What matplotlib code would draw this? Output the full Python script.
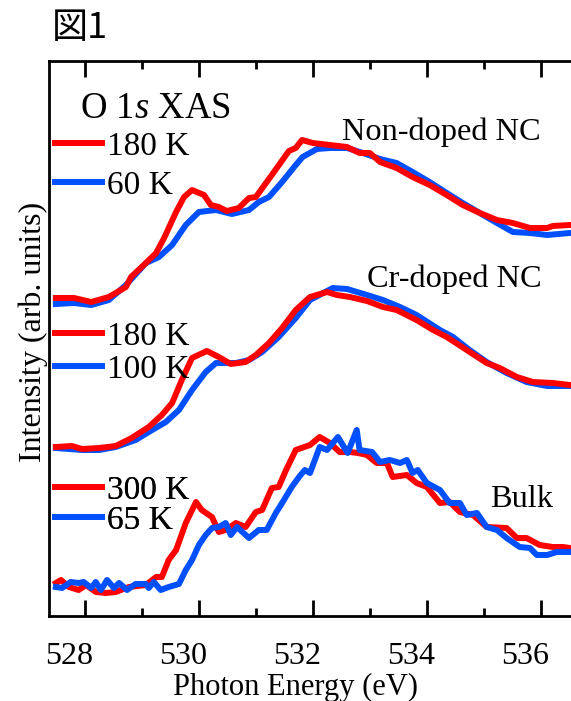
import numpy as np
import matplotlib.pyplot as plt
from matplotlib.transforms import ScaledTranslation

plt.rcParams['font.family'] = ['Liberation Serif', 'DejaVu Sans']
plt.rcParams['mathtext.fontset'] = 'custom'
plt.rcParams['mathtext.rm'] = 'Liberation Serif'
plt.rcParams['mathtext.it'] = 'Liberation Serif:italic'

# Non-doped NC
nd_180_E = [527.49, 527.81, 528.11, 528.42, 528.72, 528.81, 529.07, 529.25, 529.39, 529.60,
            529.74, 529.88, 530.09, 530.21, 530.35, 530.49, 530.70, 530.88, 531.00, 531.28,
            531.58, 531.70, 531.81, 532.00, 532.30, 532.60, 532.82, 533.00, 533.18, 533.47,
            533.75, 534.05, 534.35, 534.63, 534.93, 535.23, 535.51, 535.81, 536.11, 536.21, 536.51]
nd_180_I = [3.18, 3.18, 3.14, 3.19, 3.29, 3.39, 3.53, 3.63, 3.78, 4.04,
            4.19, 4.26, 4.21, 4.11, 4.09, 4.05, 4.08, 4.18, 4.19, 4.41,
            4.65, 4.68, 4.76, 4.73, 4.71, 4.69, 4.63, 4.63, 4.54, 4.48,
            4.39, 4.31, 4.21, 4.11, 4.03, 3.96, 3.93, 3.88, 3.88, 3.90, 3.91]
nd_60_E = [527.49, 527.81, 528.11, 528.42, 528.72, 529.07, 529.30, 529.53, 529.77, 530.00,
           530.30, 530.58, 530.88, 531.05, 531.23, 531.46, 531.70, 531.82, 532.07, 532.30,
           532.60, 532.88, 533.18, 533.47, 533.75, 534.05, 534.35, 534.63, 534.93, 535.23,
           535.51, 535.81, 536.11, 536.51]
nd_60_I = [3.12, 3.13, 3.11, 3.16, 3.31, 3.53, 3.59, 3.71, 3.91, 4.04,
           4.06, 4.02, 4.06, 4.14, 4.19, 4.34, 4.51, 4.59, 4.67, 4.68,
           4.68, 4.63, 4.57, 4.53, 4.44, 4.34, 4.23, 4.13, 4.03, 3.93,
           3.84, 3.83, 3.81, 3.83]

# Cr-doped NC
cr_180_E = [527.49, 527.77, 527.95, 528.25, 528.54, 528.82, 529.12, 529.35, 529.53, 529.70,
            529.88, 530.14, 530.35, 530.56, 530.82, 531.00, 531.23, 531.46, 531.70, 531.95,
            532.25, 532.42, 532.65, 532.95, 533.23, 533.47, 533.82, 534.11, 534.35, 534.70,
            535.05, 535.28, 535.58, 535.86, 536.21, 536.51]
cr_180_I = [1.69, 1.70, 1.67, 1.68, 1.70, 1.78, 1.89, 2.01, 2.13, 2.36,
            2.58, 2.65, 2.59, 2.52, 2.54, 2.61, 2.73, 2.88, 3.06, 3.19,
            3.24, 3.21, 3.19, 3.15, 3.09, 3.06, 2.96, 2.86, 2.79, 2.66,
            2.53, 2.48, 2.39, 2.34, 2.33, 2.31]
cr_100_E = [527.49, 527.95, 528.25, 528.54, 528.89, 529.12, 529.42, 529.65, 529.88, 530.12,
            530.30, 530.65, 530.88, 531.11, 531.40, 531.70, 531.95, 532.18, 532.35, 532.60,
            532.95, 533.23, 533.53, 533.82, 534.23, 534.46, 534.75, 535.05, 535.40, 535.75,
            536.11, 536.51]
cr_100_I = [1.68, 1.66, 1.66, 1.69, 1.76, 1.84, 1.94, 2.06, 2.26, 2.44,
            2.53, 2.53, 2.56, 2.64, 2.79, 2.98, 3.16, 3.23, 3.28, 3.27,
            3.21, 3.16, 3.09, 3.01, 2.86, 2.79, 2.66, 2.54, 2.43, 2.34,
            2.30, 2.30]

# Bulk
bk_300_E = [527.49, 527.58, 527.72, 527.89, 528.02, 528.19, 528.37, 528.54, 528.77, 529.07,
            529.25, 529.35, 529.47, 529.60, 529.77, 529.95, 530.05, 530.23, 530.35, 530.47,
            530.65, 530.82, 531.00, 531.11, 531.28, 531.40, 531.53, 531.70, 531.95, 532.12,
            532.30, 532.47, 532.65, 532.79, 532.95, 533.12, 533.30, 533.40, 533.65, 533.82,
            534.00, 534.23, 534.40, 534.58, 534.81, 535.05, 535.40, 535.58, 535.75, 535.98,
            536.21, 536.39, 536.51]
bk_300_I = [0.33, 0.36, 0.29, 0.26, 0.31, 0.24, 0.23, 0.24, 0.29, 0.31,
            0.39, 0.39, 0.56, 0.66, 0.93, 1.14, 1.06, 0.99, 0.84, 0.86,
            0.93, 0.89, 1.04, 1.06, 1.28, 1.29, 1.46, 1.66, 1.71, 1.79,
            1.73, 1.64, 1.64, 1.63, 1.61, 1.53, 1.53, 1.39, 1.41, 1.33,
            1.29, 1.13, 1.14, 1.04, 1.01, 0.89, 0.88, 0.78, 0.78, 0.71,
            0.69, 0.69, 0.68]
bk_65_E = [527.49, 527.60, 527.75, 527.89, 527.98, 528.11, 528.19, 528.28, 528.39, 528.51,
           528.60, 528.74, 528.89, 529.07, 529.12, 529.21, 529.33, 529.47, 529.65, 529.77,
           529.88, 530.00, 530.12, 530.23, 530.35, 530.47, 530.56, 530.67, 530.88, 531.05,
           531.19, 531.35, 531.46, 531.63, 531.77, 531.86, 531.95, 532.12, 532.25, 532.44,
           532.61, 532.77, 532.82, 533.04, 533.18, 533.35, 533.53, 533.65, 533.75, 533.84,
           534.00, 534.23, 534.40, 534.58, 534.70, 534.88, 535.05, 535.23, 535.40, 535.63,
           535.81, 535.93, 536.11, 536.28, 536.51]
bk_65_I = [0.29, 0.28, 0.34, 0.33, 0.34, 0.28, 0.34, 0.26, 0.36, 0.28,
           0.33, 0.26, 0.32, 0.32, 0.28, 0.34, 0.26, 0.29, 0.32, 0.46,
           0.56, 0.71, 0.81, 0.88, 0.89, 0.93, 0.81, 0.89, 0.78, 0.86,
           0.86, 1.03, 1.13, 1.29, 1.40, 1.46, 1.43, 1.69, 1.66, 1.79,
           1.63, 1.86, 1.66, 1.64, 1.54, 1.56, 1.53, 1.56, 1.43, 1.46,
           1.33, 1.26, 1.13, 1.13, 1.01, 1.03, 0.89, 0.86, 0.78, 0.69,
           0.68, 0.61, 0.61, 0.64, 0.64]

red = '#ff0000'
blue = '#0050ff'
lw = 4.3

fig = plt.figure(figsize=(5.71, 7.01), dpi=100)
ax = fig.add_axes([49 / 571, 85 / 701, 522 / 571, 555 / 701])

b1, = ax.plot(nd_60_E, nd_60_I, color=blue, lw=lw)
r1, = ax.plot(nd_180_E, nd_180_I, color=red, lw=lw)
b2, = ax.plot(cr_100_E, cr_100_I, color=blue, lw=lw)
r2, = ax.plot(cr_180_E, cr_180_I, color=red, lw=lw)
r3, = ax.plot(bk_300_E, bk_300_I, color=red, lw=lw)
b3, = ax.plot(bk_65_E, bk_65_I, color=blue, lw=lw)

ax.set_xlim(527.37, 536.53)
ax.set_ylim(0, 5.55)

ax.spines['right'].set_visible(False)
for s in ['left', 'top', 'bottom']:
    ax.spines[s].set_linewidth(2)
ax.set_yticks([])
ax.set_xticks([528, 530, 532, 534, 536])
ax.set_xticks([529, 531, 533, 535], minor=True)
ax.tick_params(axis='x', which='both', direction='in', top=True, width=2,
               labelsize=23, pad=18.5)
ax.tick_params(axis='x', which='major', length=11.5)
ax.tick_params(axis='x', which='minor', length=6)
# tick labels sit a little to the left of their ticks in the original
shift = ScaledTranslation(-0.16, 0, fig.dpi_scale_trans)
for lab in ax.get_xticklabels():
    lab.set_transform(lab.get_transform() + shift)

ax.set_xlabel('Photon Energy (eV)', fontsize=22, va='baseline')
ax.xaxis.set_label_coords(0.472, -0.142)
ax.set_ylabel('Intensity (arb. units)', fontsize=23, va='center', ha='center')
ax.yaxis.set_label_coords(-0.031, 0.511)

fs = 24
ax.text(0.059, 0.897, r'O 1$\mathit{s}$ XAS', transform=ax.transAxes, fontsize=26.5, va='baseline')
ax.text(0.561, 0.858, 'Non-doped NC', transform=ax.transAxes, fontsize=23.3, va='baseline')
ax.text(0.609, 0.593, 'Cr-doped NC', transform=ax.transAxes, fontsize=23.3, va='baseline')
ax.text(0.845, 0.196, 'Bulk', transform=ax.transAxes, fontsize=23.3, va='baseline')

groups = [([r1, b1], ['180 K', '60 K'], 0.811, 0.26),
          ([r2, b2], ['180 K', '100 K'], 0.474, 0.08),
          ([r3, b3], ['300 K', '65 K'], 0.199, -0.01)]
for hs, labs, yc, sp in groups:
    leg = ax.legend(hs, labs, loc='center left', bbox_to_anchor=(0.0115, yc),
                    frameon=False, fontsize=fs, handlelength=1.4, handletextpad=0.15,
                    labelspacing=sp, borderpad=0, borderaxespad=0)
    ax.add_artist(leg)

fig.text(52 / 571, 1 - 28 / 701, '図1', fontsize=26, va='center', ha='left',
         family=['Noto Sans CJK JP', 'DejaVu Sans'])

fig.savefig('out.png', dpi=100)
